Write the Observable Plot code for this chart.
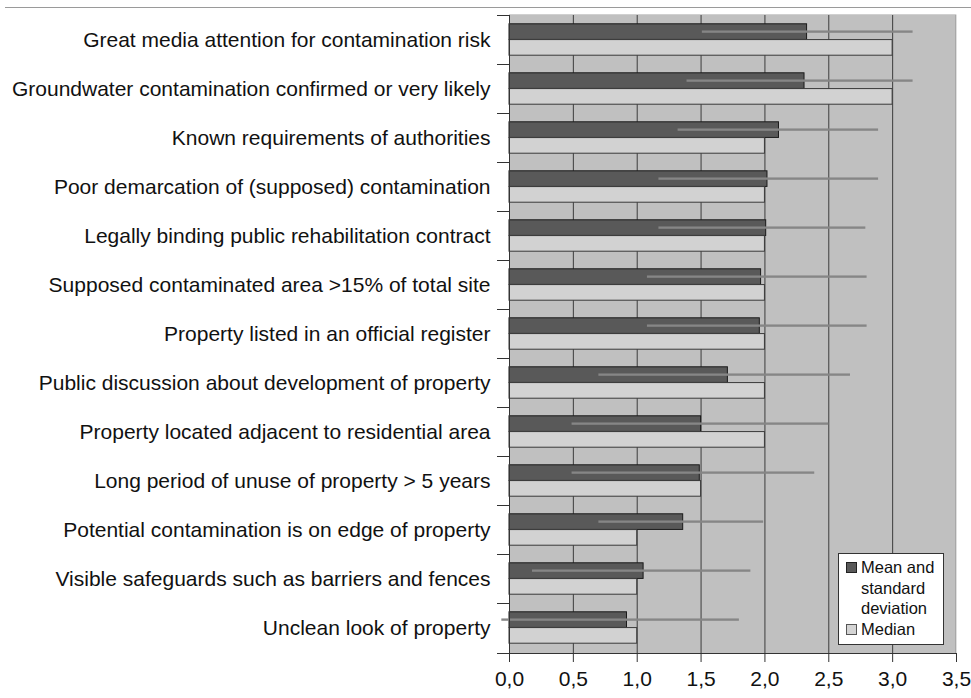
<!DOCTYPE html>
<html>
<head>
<meta charset="utf-8">
<script src="https://cdn.jsdelivr.net/npm/d3@7"></script>
<script src="https://cdn.jsdelivr.net/npm/@observablehq/plot@0.6"></script>
<style>
  html, body { margin: 0; padding: 0; background: #fff; }
  body { width: 971px; height: 698px; position: relative; overflow: hidden; font-family: "Liberation Sans", Arial, sans-serif; }
  #topline { position: absolute; left: 5px; right: 0; top: 7px; height: 1px; background: #9a9a9a; }
  #chart { position: absolute; left: 0; top: 0; }
  #legend { position: absolute; left: 838px; top: 553px; width: 104px; height: 90px; background: #fff; border: 1px solid #333; font-size: 16.5px; line-height: 20.5px; color: #111; }
  .item { position: absolute; left: 7px; }
  .sw { position: absolute; left: 0; top: 5px; width: 9px; height: 9px; border: 1px solid #222; }
  .lab { position: absolute; left: 15px; top: 0; white-space: nowrap; }
</style>
</head>
<body>
<div id="topline"></div>
<div id="chart"></div>
<div id="legend">
  <div class="item" style="top:3px"><div class="sw" style="background:#595959"></div><div class="lab">Mean and<br>standard<br>deviation</div></div>
  <div class="item" style="top:65px"><div class="sw" style="background:#d4d4d4;border-color:#555"></div><div class="lab">Median</div></div>
</div>
<script>
const categories = [
  "Great media attention for contamination risk",
  "Groundwater contamination confirmed or very likely",
  "Known requirements of authorities",
  "Poor demarcation of (supposed) contamination",
  "Legally binding public rehabilitation contract",
  "Supposed contaminated area >15% of total site",
  "Property listed in an official register",
  "Public discussion about development of property",
  "Property located adjacent to residential area",
  "Long period of unuse of property > 5 years",
  "Potential contamination is on edge of property",
  "Visible safeguards such as barriers and fences",
  "Unclean look of property"
];
const means   = [2.33, 2.31, 2.11, 2.02, 2.01, 1.97, 1.96, 1.71, 1.50, 1.49, 1.36, 1.05, 0.92];
const sdLow   = [1.51, 1.39, 1.32, 1.17, 1.17, 1.08, 1.08, 0.70, 0.49, 0.49, 0.70, 0.18, -0.06];
const sdHigh  = [3.16, 3.16, 2.89, 2.89, 2.79, 2.80, 2.80, 2.67, 2.50, 2.39, 1.99, 1.89, 1.80];
const medians = [3.0, 3.0, 2.0, 2.0, 2.0, 2.0, 2.0, 2.0, 2.0, 1.5, 1.0, 1.0, 1.0];
const xTicks  = [0, 0.5, 1.0, 1.5, 2.0, 2.5, 3.0, 3.5];

const rows = categories.map((c, i) => ({cat: c, mean: means[i], lo: sdLow[i], hi: sdHigh[i], median: medians[i]}));

const W = 971, H = 698, mt = 14, mb = 45, ml = 509, mr = 15;
const bw = (H - mt - mb) / categories.length;
const gap = 8.8, barH = (bw - 2 * gap) / 2;

// axis decorations: left axis line, boundary ticks, bottom axis line
function axisFrame(index, scales, values, dims) {
  const g = d3.create("svg:g");
  const y = scales.y;
  const left = dims.marginLeft, right = dims.width - dims.marginRight;
  const top = dims.marginTop, bottom = dims.height - dims.marginBottom;
  categories.forEach(c => {
    const yy = Math.round(y(c)) + 0.5;
    g.append("line").attr("x1", left - 12).attr("x2", left).attr("y1", yy).attr("y2", yy).attr("stroke", "#333");
  });
  g.append("line").attr("x1", left - 12).attr("x2", right).attr("y1", Math.round(bottom) + 0.5).attr("y2", Math.round(bottom) + 0.5).attr("stroke", "#333");
  g.append("line").attr("x1", left + 0.5).attr("x2", left + 0.5).attr("y1", top).attr("y2", bottom).attr("stroke", "#333");
  g.append("line").attr("x1", right - 0.5).attr("x2", right - 0.5).attr("y1", top).attr("y2", bottom).attr("stroke", "#a8a8a8");
  g.append("line").attr("x1", left).attr("x2", right).attr("y1", top + 0.5).attr("y2", top + 0.5).attr("stroke", "#d0d0d0");
  return g.node();
}

const chart = Plot.plot({
  width: W, height: H,
  marginTop: mt, marginBottom: mb, marginLeft: ml, marginRight: mr,
  style: {fontFamily: "'Liberation Sans', Arial, sans-serif", color: "#111", background: "transparent"},
  x: {domain: [0, 3.5], label: null},
  y: {domain: categories, padding: 0, label: null},
  marks: [
    Plot.frame({fill: "#c0c0c0", stroke: null}),
    Plot.ruleX(xTicks.filter(t => t > 0 && t < 3.5), {stroke: "#3c3c3c", strokeWidth: 1}),
    Plot.barX(rows, {y: "cat", x: "mean", fill: "#595959", stroke: "#1a1a1a", strokeWidth: 1, insetTop: gap, insetBottom: gap + barH}),
    Plot.barX(rows, {y: "cat", x: "median", fill: "#d2d2d2", stroke: "#3a3a3a", strokeWidth: 1, insetTop: gap + barH, insetBottom: gap}),
    Plot.barX(rows, {y: "cat", x1: "lo", x2: "hi", fill: "#868686", insetTop: gap + barH / 2 - 1.25, insetBottom: gap + barH * 1.5 - 1.25}),
    axisFrame,
    Plot.axisX({ticks: xTicks, tickFormat: d => d.toFixed(1).replace(".", ","), tickSize: 9, tickPadding: 9, fontSize: 21, stroke: "#333", label: null}),
    Plot.axisY({tickSize: 0, tickPadding: 19, fontSize: 21, label: null})
  ]
});
document.getElementById("chart").appendChild(chart);
</script>
</body>
</html>
